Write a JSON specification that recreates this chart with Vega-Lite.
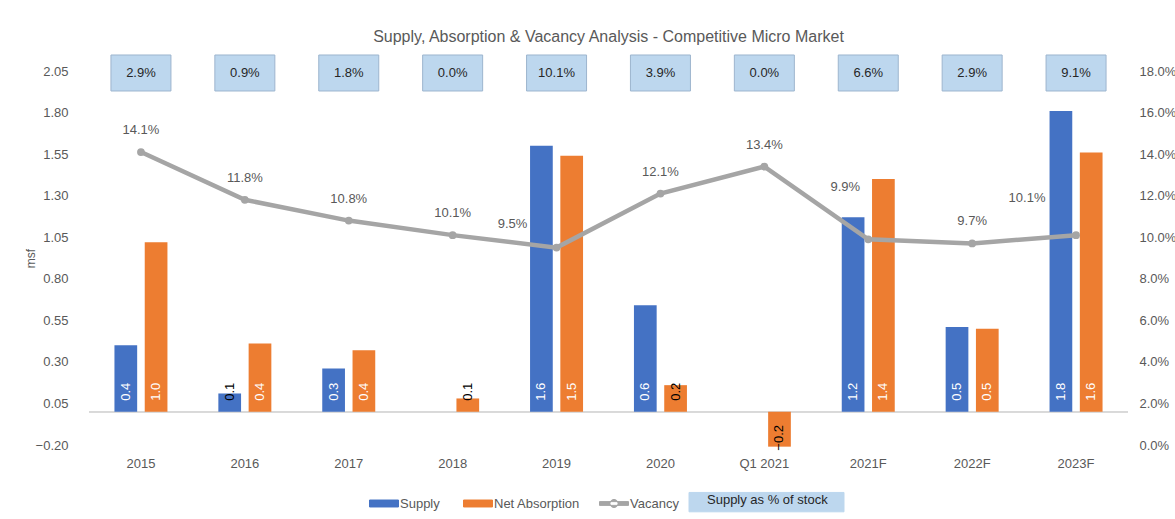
{
  "$schema": "https://vega.github.io/schema/vega-lite/v6.json",
  "width": 1039,
  "height": 374,
  "padding": {"left": 24, "top": 28, "right": 0, "bottom": 0},
  "background": "white",
  "title": {
    "text": "Supply, Absorption & Vacancy Analysis - Competitive Micro Market",
    "font": "Liberation Sans",
    "fontSize": 16,
    "fontWeight": "normal",
    "color": "#595959",
    "offset": 8
  },
  "data": {
    "values": [
      {"cat": "2015", "Supply": 0.40, "Net Absorption": 1.02, "vac": 0.141, "pct": 0.029},
      {"cat": "2016", "Supply": 0.11, "Net Absorption": 0.41, "vac": 0.118, "pct": 0.009},
      {"cat": "2017", "Supply": 0.26, "Net Absorption": 0.37, "vac": 0.108, "pct": 0.018},
      {"cat": "2018", "Supply": 0.0, "Net Absorption": 0.08, "vac": 0.101, "pct": 0.0},
      {"cat": "2019", "Supply": 1.60, "Net Absorption": 1.54, "vac": 0.095, "pct": 0.101},
      {"cat": "2020", "Supply": 0.64, "Net Absorption": 0.16, "vac": 0.121, "pct": 0.039},
      {"cat": "Q1 2021", "Supply": 0.0, "Net Absorption": -0.21, "vac": 0.134, "pct": 0.0},
      {"cat": "2021F", "Supply": 1.17, "Net Absorption": 1.40, "vac": 0.099, "pct": 0.066},
      {"cat": "2022F", "Supply": 0.51, "Net Absorption": 0.50, "vac": 0.097, "pct": 0.029},
      {"cat": "2023F", "Supply": 1.81, "Net Absorption": 1.56, "vac": 0.101, "pct": 0.091}
    ]
  },
  "config": {
    "view": {"stroke": null},
    "font": "Liberation Sans",
    "axis": {
      "labelFont": "Liberation Sans",
      "labelFontSize": 13,
      "labelColor": "#595959",
      "titleFont": "Liberation Sans",
      "titleColor": "#595959",
      "titleFontWeight": "normal",
      "grid": false,
      "domain": false,
      "ticks": false
    }
  },
  "resolve": {"scale": {"y": "independent"}},
  "layer": [
    {
      "layer": [
        {
          "mark": {"type": "rule", "color": "#D9D9D9", "strokeWidth": 1.5},
          "encoding": {"y": {"datum": 0, "type": "quantitative"}}
        },
        {
          "transform": [{"fold": ["Supply", "Net Absorption"], "as": ["series", "value"]}],
          "mark": {"type": "bar"},
          "encoding": {
            "x": {
              "field": "cat", "type": "nominal", "sort": null,
              "scale": {"paddingInner": 0.42, "paddingOuter": 0.21},
              "axis": {"title": null, "labelAngle": 0, "labelPadding": 12}
            },
            "xOffset": {
              "field": "series", "type": "nominal",
              "sort": ["Supply", "Net Absorption"],
              "scale": {"paddingInner": 0.25, "paddingOuter": 0.12}
            },
            "y": {
              "field": "value", "type": "quantitative",
              "scale": {"domain": [-0.2, 2.05], "nice": false, "zero": false},
              "axis": {
                "title": "msf", "titleFontSize": 12, "titleX": -52, "titleY": 187,
                "values": [-0.2, 0.05, 0.3, 0.55, 0.8, 1.05, 1.3, 1.55, 1.8, 2.05],
                "format": ".2f", "labelPadding": 21
              }
            },
            "color": {
              "field": "series", "type": "nominal",
              "scale": {
                "domain": ["Supply", "Net Absorption", "Vacancy", "Supply as % of stock"],
                "range": ["#4472C4", "#ED7D31", "#A5A5A5", "#BDD7EE"]
              },
              "legend": {
                "orient": "none",
                "legendX": 280,
                "legendY": 414,
                "direction": "horizontal",
                "title": null,
                "labelFont": "Liberation Sans",
                "labelFontSize": 13,
                "labelColor": "#595959",
                "symbolSize": 841,
                "columnPadding": 8,
                "labelOffset": 1,
                "encode": {
                  "symbols": {
                    "update": {
                      "shape": {"signal": "datum.value === 'Vacancy' ? 'M-1.6,0L-1.6,0M-1,-0.13H1V0.13H-1Z M-0.28,0A0.28,0.28 0 1,0 0.28,0A0.28,0.28 0 1,0 -0.28,0Z' : datum.value === 'Supply as % of stock' ? 'M-0.8,-0.1H1.2V0.15H-0.8Z' : datum.value === 'Net Absorption' ? 'M-1.9,0L-1.9,0M-1,-0.24H1V0.24H-1Z' : 'M-1,-0.24H1V0.24H-1Z'"},
                      "size": {"signal": "datum.value === 'Supply as % of stock' ? 24025 : 841"},
                      "stroke": {"signal": "datum.value === 'Supply as % of stock' ? '#9DB5CE' : 'transparent'"},
                      "strokeWidth": {"value": 1}
                    }
                  },
                  "labels": {
                    "update": {
                      "dx": {"signal": "datum.value === 'Supply as % of stock' ? -60 : 0"},
                      "fill": {"signal": "datum.value === 'Supply as % of stock' ? '#262626' : '#595959'"}
                    }
                  }
                }
              }
            }
          }
        },
        {
          "transform": [
            {"fold": ["Supply", "Net Absorption"], "as": ["series", "value"]},
            {"filter": "datum.value > 0"}
          ],
          "mark": {"type": "text", "angle": 270, "align": "left", "baseline": "middle", "dx": 11, "fontSize": 13, "font": "Liberation Sans"},
          "encoding": {
            "x": {"field": "cat", "type": "nominal", "sort": null},
            "xOffset": {"field": "series", "type": "nominal", "sort": ["Supply", "Net Absorption"]},
            "y": {"datum": 0, "type": "quantitative"},
            "text": {"field": "value", "type": "quantitative", "format": ".1f"},
            "color": {"condition": {"test": "datum.value < 0.2", "value": "#000000"}, "value": "#FFFFFF"}
          }
        },
        {
          "transform": [
            {"fold": ["Supply", "Net Absorption"], "as": ["series", "value"]},
            {"filter": "datum.value < 0"}
          ],
          "mark": {"type": "text", "angle": 270, "align": "left", "baseline": "middle", "dx": -4, "fontSize": 13, "font": "Liberation Sans", "color": "#000000"},
          "encoding": {
            "x": {"field": "cat", "type": "nominal", "sort": null},
            "xOffset": {"field": "series", "type": "nominal", "sort": ["Supply", "Net Absorption"]},
            "y": {"field": "value", "type": "quantitative"},
            "text": {"field": "value", "type": "quantitative", "format": ".1f"}
          }
        },
        {
          "mark": {"type": "point", "filled": true, "opacity": 1, "shape": "M-1,-0.6H1V0.6H-1Z", "size": 3600, "stroke": "#9DB5CE", "strokeWidth": 1},
          "encoding": {
            "x": {"field": "cat", "type": "nominal", "sort": null},
            "y": {"datum": 2.038, "type": "quantitative"},
            "color": {"datum": "Supply as % of stock"}
          }
        },
        {
          "mark": {"type": "text", "fontSize": 13, "color": "#262626", "baseline": "middle"},
          "encoding": {
            "x": {"field": "cat", "type": "nominal", "sort": null},
            "y": {"datum": 2.038, "type": "quantitative"},
            "text": {"field": "pct", "type": "quantitative", "format": ".1%"}
          }
        }
      ]
    },
    {
      "layer": [
        {
          "mark": {"type": "line", "strokeWidth": 4.5, "point": {"filled": true, "size": 60, "color": "#A5A5A5"}},
          "encoding": {
            "x": {"field": "cat", "type": "nominal", "sort": null},
            "y": {
              "field": "vac", "type": "quantitative",
              "scale": {"domain": [0, 0.18], "nice": false, "zero": false},
              "axis": {
                "title": null, "orient": "right",
                "values": [0, 0.02, 0.04, 0.06, 0.08, 0.1, 0.12, 0.14, 0.16, 0.18],
                "format": ".1%", "labelPadding": 11
              }
            },
            "color": {"datum": "Vacancy"}
          }
        },
        {
          "transform": [{"filter": "datum.cat !== '2019' && datum.cat !== '2021F' && datum.cat !== '2023F'"}],
          "mark": {"type": "text", "dy": -22, "fontSize": 13, "color": "#595959"},
          "encoding": {
            "x": {"field": "cat", "type": "nominal", "sort": null},
            "y": {"field": "vac", "type": "quantitative"},
            "text": {"field": "vac", "type": "quantitative", "format": ".1%"}
          }
        },
        {
          "transform": [{"filter": "datum.cat === '2019'"}],
          "mark": {"type": "text", "dx": -44, "dy": -24, "fontSize": 13, "color": "#595959"},
          "encoding": {
            "x": {"field": "cat", "type": "nominal", "sort": null},
            "y": {"field": "vac", "type": "quantitative"},
            "text": {"field": "vac", "type": "quantitative", "format": ".1%"}
          }
        },
        {
          "transform": [{"filter": "datum.cat === '2021F'"}],
          "mark": {"type": "text", "dx": -23, "dy": -52, "fontSize": 13, "color": "#595959"},
          "encoding": {
            "x": {"field": "cat", "type": "nominal", "sort": null},
            "y": {"field": "vac", "type": "quantitative"},
            "text": {"field": "vac", "type": "quantitative", "format": ".1%"}
          }
        },
        {
          "transform": [{"filter": "datum.cat === '2023F'"}],
          "mark": {"type": "text", "dx": -49, "dy": -37, "fontSize": 13, "color": "#595959"},
          "encoding": {
            "x": {"field": "cat", "type": "nominal", "sort": null},
            "y": {"field": "vac", "type": "quantitative"},
            "text": {"field": "vac", "type": "quantitative", "format": ".1%"}
          }
        }
      ]
    }
  ]
}
